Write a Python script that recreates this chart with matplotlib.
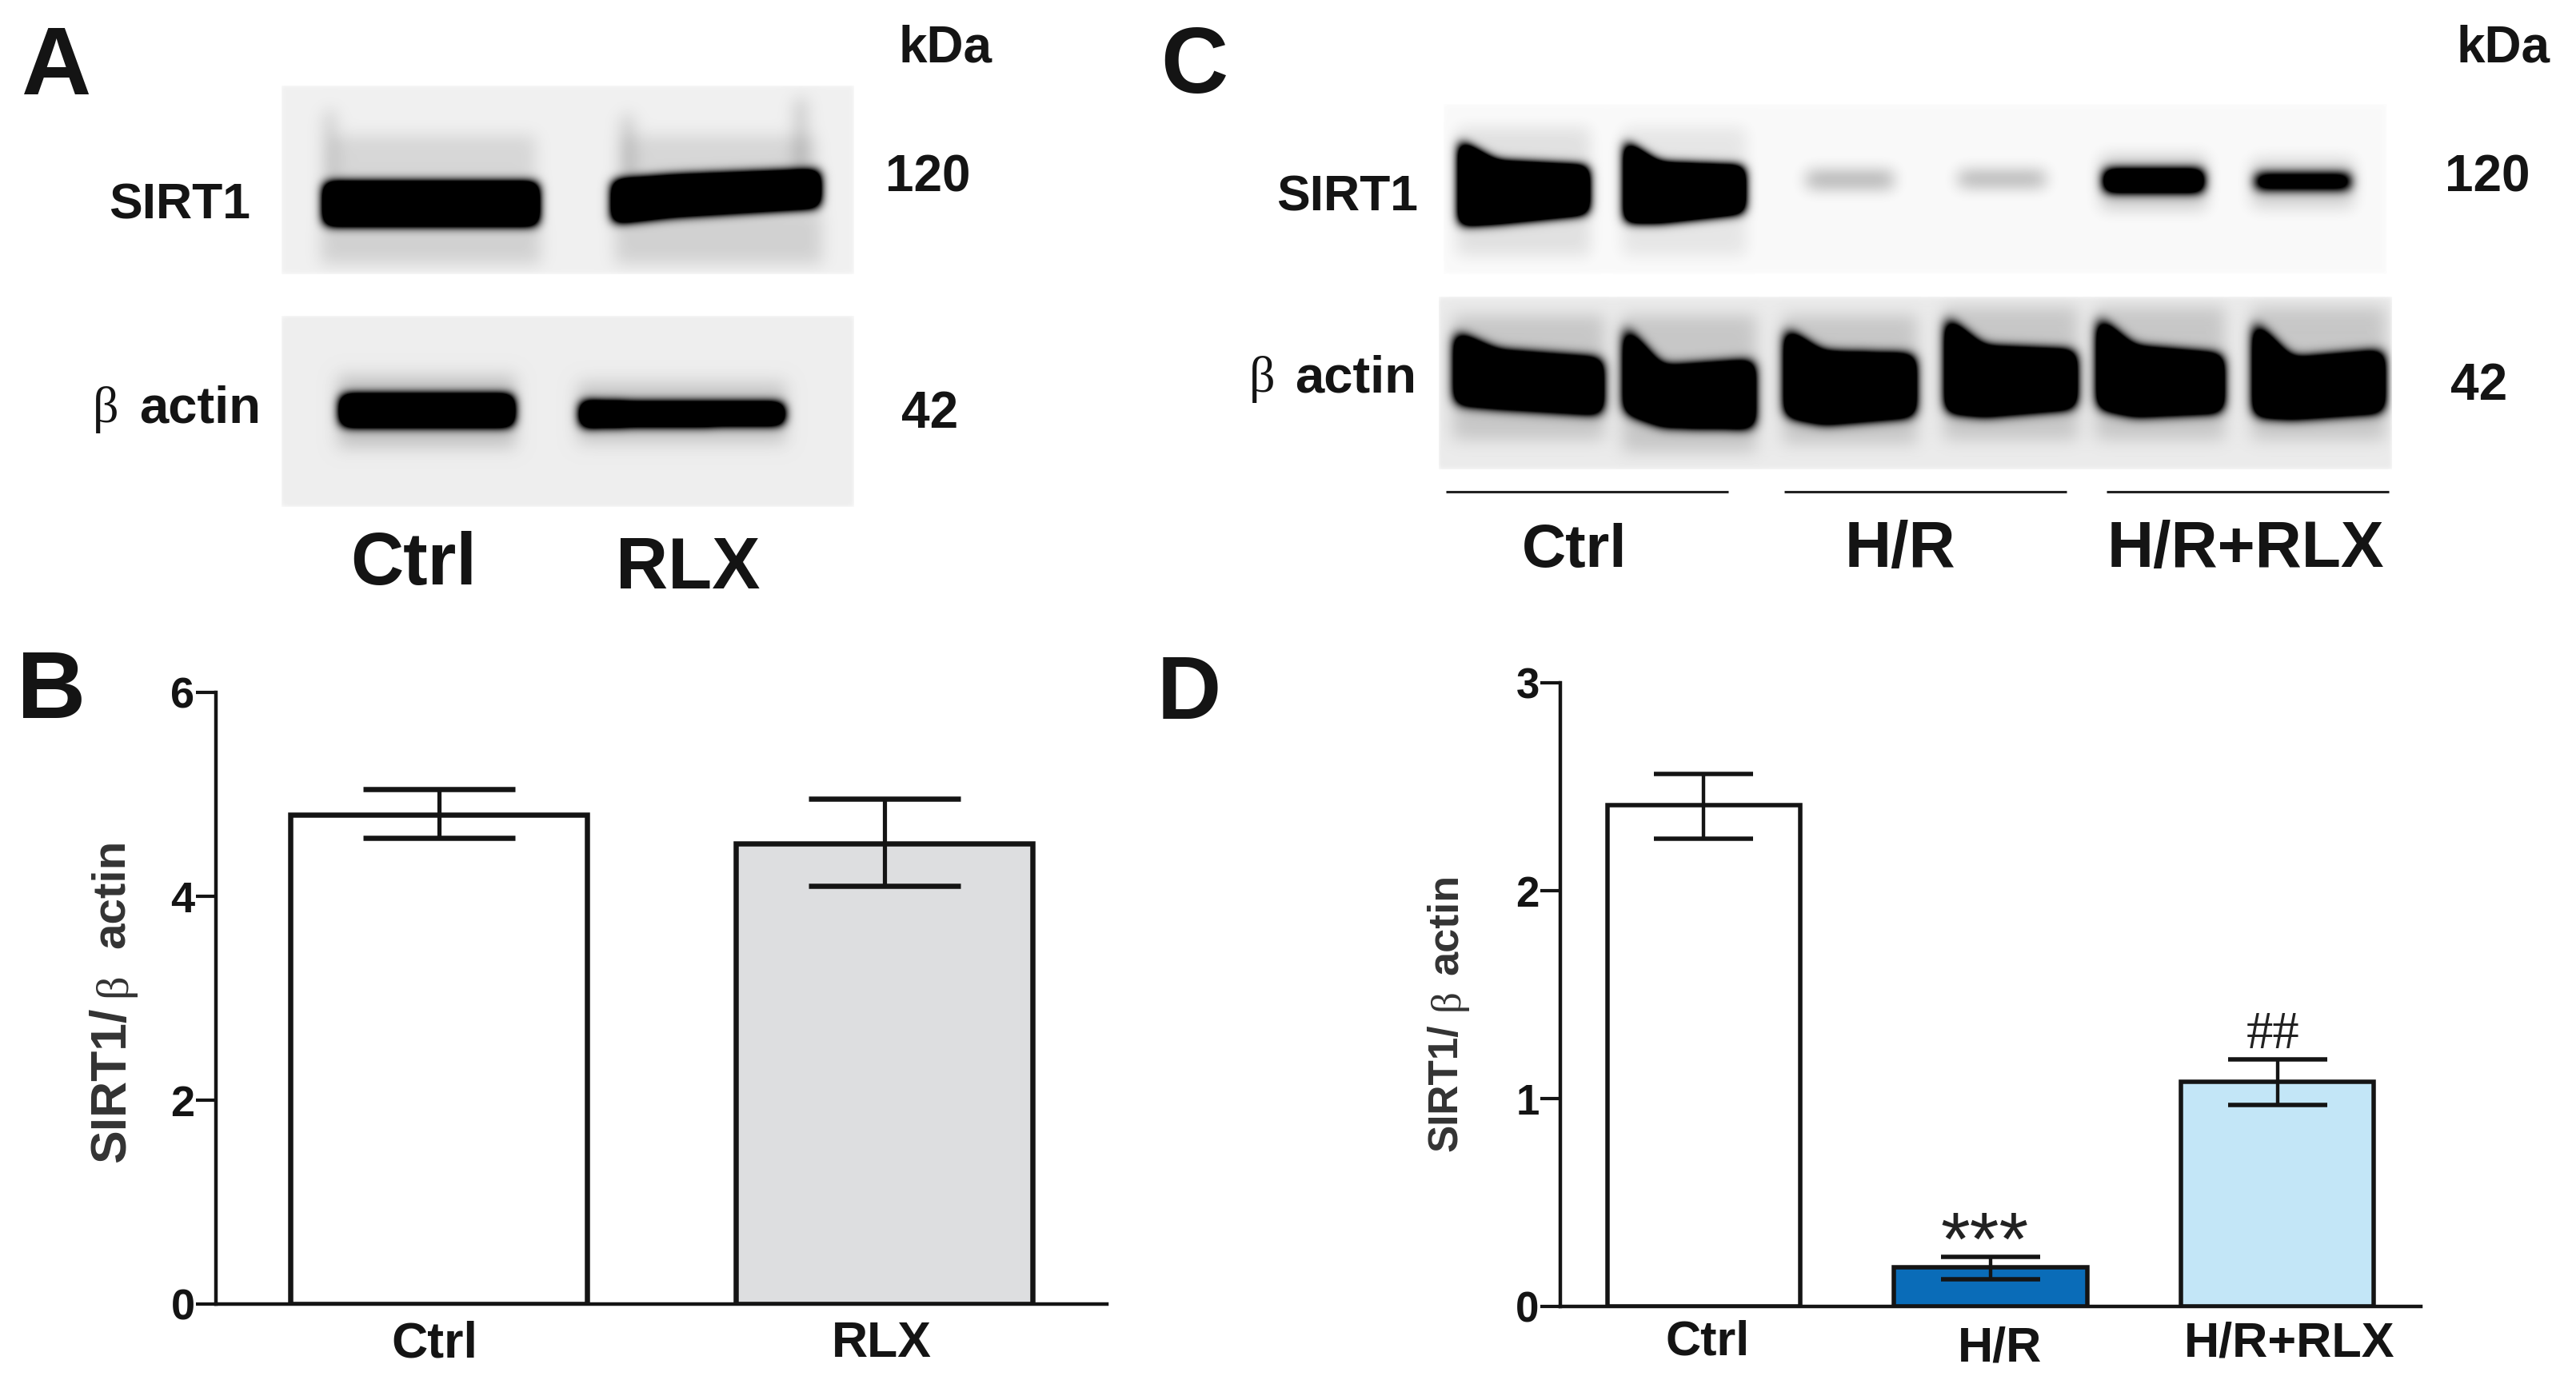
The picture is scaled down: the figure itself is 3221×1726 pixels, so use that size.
import numpy as np
import matplotlib
matplotlib.use("Agg")
import matplotlib.pyplot as plt
from matplotlib.transforms import ScaledTranslation

W, H = 3221, 1726
DPI = 100
INK = "#141414"
plt.rcParams['font.family'] = ['Liberation Sans', 'DejaVu Sans']
plt.rcParams['font.weight'] = 'bold'

# ---------- quantified bar data ----------
b_labels = ["Ctrl", "RLX"]
b_means = [4.80, 4.52]
b_err_hi = [5.05, 4.96]
b_err_lo = [4.57, 4.10]
b_colors = ["#ffffff", "#dddee0"]
b_yticks = [0, 2, 4, 6]

d_labels = ["Ctrl", "H/R", "H/R+RLX"]
d_means = [2.41, 0.19, 1.08]
d_err_hi = [2.56, 0.24, 1.19]
d_err_lo = [2.25, 0.13, 0.97]
d_colors = ["#ffffff", "#0a6cb8", "#c3e6f7"]
d_yticks = [0, 1, 2, 3]
d_marks = ["", "***", "##"]

# ---------- western-blot bands (x0, x1, top[3], bottom[3], strength, blur) ----------
blot_a_sirt1 = [
    (402, 676, (226, 226, 226), (284, 284, 284), 3.0, 9),
    (763, 1028, (224, 218, 211), (281, 272, 261), 3.0, 9),
]
blot_a_actin = [
    (423, 645, (492, 492, 492), (535, 535, 535), 3.0, 9),
    (723, 983, (500, 502, 502), (536, 534, 533), 3.0, 9),
]
blot_c_sirt1 = [
    (1822, 1989, (172, 200, 206), (284, 281, 269), 3.0, 9),
    (2029, 2184, (172, 202, 206), (280, 280, 268), 3.0, 9),
    (2253, 2374, (208, 208, 208), (242, 242, 242), 0.30, 12),
    (2443, 2564, (208, 208, 208), (240, 240, 240), 0.30, 12),
    (2627, 2759, (209, 209, 209), (243, 243, 243), 2.2, 9),
    (2816, 2943, (214, 214, 214), (240, 240, 240), 1.7, 9),
]
blot_c_actin = [
    (1817, 2006, (413, 438, 448), (507, 512, 520), 3.0, 10),
    (2029, 2196, (403, 458, 450), (517, 535, 537), 3.0, 10),
    (2230, 2397, (408, 440, 443), (522, 532, 522), 3.0, 10),
    (2431, 2598, (393, 433, 438), (517, 522, 512), 3.0, 10),
    (2621, 2782, (393, 433, 443), (512, 522, 517), 3.0, 10),
    (2816, 2983, (398, 448, 438), (522, 525, 517), 3.0, 10),
]
# faint smears: x0, x1, y0, y1, level
smear_a_sirt1 = [(412, 670, 170, 235, 0.10), (778, 1020, 170, 225, 0.10),
                 (402, 676, 280, 330, 0.12), (770, 1028, 265, 330, 0.12),
                 (406, 420, 140, 230, 0.14), (778, 792, 145, 230, 0.16),
                 (995, 1008, 125, 215, 0.18)]
smear_a_actin = [(423, 645, 470, 560, 0.16), (723, 983, 478, 555, 0.14)]
smear_c_sirt1 = [(1822, 1989, 160, 320, 0.10), (2029, 2184, 160, 320, 0.08),
                 (2627, 2759, 195, 262, 0.18), (2816, 2943, 200, 260, 0.16)]
smear_c_actin = [(1817, 2006, 395, 550, 0.14), (2029, 2196, 395, 565, 0.14),
                 (2230, 2397, 395, 555, 0.14), (2431, 2598, 385, 550, 0.14),
                 (2621, 2782, 385, 550, 0.14), (2816, 2983, 385, 550, 0.14)]


def gblur(a, sigma):
    r = int(3 * sigma)
    k = np.exp(-0.5 * (np.arange(-r, r + 1) / sigma) ** 2)
    k /= k.sum()
    pad = np.pad(a, r, mode="edge")
    pad = np.apply_along_axis(lambda v: np.convolve(v, k, mode="same"), 0, pad)
    pad = np.apply_along_axis(lambda v: np.convolve(v, k, mode="same"), 1, pad)
    return pad[r:-r, r:-r]


def sig(t, s):
    return 0.5 * (1 + np.tanh(t / s))


def blot(ax, rect, bands, smears, bg):
    x0, x1, y0, y1 = rect
    xs = np.arange(x0, x1) + 0.5
    ys = np.arange(y0, y1) + 0.5
    X, Y = np.meshgrid(xs, ys)
    dens = np.zeros_like(X)
    for a, b, tp, bt, st, soft in bands:
        fr = (xs - a) / (b - a)
        top = np.interp(fr, [0, 0.3, 1], tp)
        bot = np.interp(fr, [0, 0.3, 1], bt)
        mask = ((X >= a) & (X <= b) & (Y >= top) & (Y <= bot)).astype(float)
        dens += st * gblur(mask, soft) ** 2
    haze = np.zeros_like(X)
    for a, b, c, d, lev in smears:
        m = ((X >= a) & (X <= b) & (Y >= c) & (Y <= d)).astype(float)
        haze += lev * m
    dens += gblur(haze, 10)
    img = np.clip(bg - dens, 0, 1)
    edge = sig(X - x0, 3) * sig(x1 - X, 3) * sig(Y - y0, 3) * sig(y1 - Y, 3)
    img = 1 - (1 - img) * edge
    ax.imshow(img, cmap="gray", vmin=0, vmax=1, extent=(x0, x1, y1, y0),
              aspect="auto", interpolation="bilinear", zorder=1)


fig = plt.figure(figsize=(W / DPI, H / DPI), dpi=DPI, facecolor="white")
ov = fig.add_axes([0, 0, 1, 1], zorder=0)

blot(ov, (352, 1068, 107, 343), blot_a_sirt1, smear_a_sirt1, 0.94)
blot(ov, (352, 1068, 395, 634), blot_a_actin, smear_a_actin, 0.93)
blot(ov, (1805, 2985, 130, 343), blot_c_sirt1, smear_c_sirt1, 0.98)
blot(ov, (1799, 2991, 372, 587), blot_c_actin, smear_c_actin, 0.92)

ov.set_xlim(0, W)
ov.set_ylim(H, 0)
ov.axis("off")


def T(x, y, s, size, ha="center", va="baseline", family=None, weight="bold", rot=0, color=INK):
    kw = {}
    if family:
        kw["family"] = family
    ov.text(x, y, s, fontsize=size, ha=ha, va=va, weight=weight, rotation=rot, color=color, **kw)


# panel letters
T(71, 118, "A", 87)
T(64, 898, "B", 86)
T(1493, 116, "C", 84)
T(1487, 899, "D", 80)

# panel A text
T(1182, 77, "kDa", 46)
T(225, 274, "SIRT1", 45)
T(1160, 240, "120", 46)
T(1163, 535, "42", 46)
T(116, 528, "β", 46, ha="left", family="Liberation Serif", weight="normal")
T(250, 528, "actin", 47)
T(517, 731, "Ctrl", 66)
T(860, 736, "RLX", 65)

# panel C text
T(3130, 77, "kDa", 46)
T(1685, 264, "SIRT1", 45)
T(3110, 240, "120", 46)
T(3100, 500, "42", 46)
T(1562, 490, "β", 46, ha="left", family="Liberation Serif", weight="normal")
T(1695, 490, "actin", 47)
T(1969, 709, "Ctrl", 55)
T(2376, 709, "H/R", 58)
T(2808, 709, "H/R+RLX", 58)

# group rules under panel C
rule_spans = [(1808, 2161), (2231, 2584), (2634, 2987)]
for a, b in rule_spans:
    ov.plot([a, b], [615, 615], color="#222222", lw=2.2, solid_capstyle="butt", zorder=2)
ov.set_xlim(0, W)
ov.set_ylim(H, 0)

# y-axis titles, pieced because the beta is set in a serif face
GREY = "#333333"
T(140, 1357, "SIRT1/", 45, va="center", rot=90, color=GREY)
T(143, 1232, "β", 42, va="center", rot=90, family="Liberation Serif", weight="normal", color=GREY)
T(140, 1118, "actin", 42, va="center", rot=90, color=GREY)
T(1808, 1360, "SIRT1/", 37, va="center", rot=90, color=GREY)
T(1811, 1251, "β", 38, va="center", rot=90, family="Liberation Serif", weight="normal", color=GREY)
T(1808, 1156, "actin", 39, va="center", rot=90, color=GREY)


def bar_panel(box, labels, means, hi, lo, colors, yticks, ymax, barw, lw_px, cap_px, tick_fs,
              lab_fs, lab_off, pad_px):
    left, right, top, bottom = box
    ax = fig.add_axes([left / W, 1 - bottom / H, (right - left) / W, (bottom - top) / H], zorder=2)
    ax.patch.set_alpha(0)
    n = len(labels)
    x = np.arange(n)
    lw = lw_px * 72 / DPI
    ax.bar(x, means, width=barw, color=colors, edgecolor=INK, linewidth=lw, zorder=2)
    ax.errorbar(x, means,
                yerr=[np.array(means) - np.array(lo), np.array(hi) - np.array(means)],
                fmt="none", ecolor=INK, elinewidth=lw * 0.8, capsize=cap_px / 2 * 72 / DPI,
                capthick=lw, zorder=3)
    ax.set_xlim(-0.5, n - 0.5)
    ax.set_ylim(0, ymax)
    for s in ("top", "right"):
        ax.spines[s].set_visible(False)
    for s in ("left", "bottom"):
        ax.spines[s].set_linewidth(3.2)
        ax.spines[s].set_color(INK)
    ax.set_yticks(yticks)
    ax.tick_params(axis="y", length=18, width=3.0, color=INK, labelsize=tick_fs, pad=1, labelcolor=INK)
    ax.set_xticks(x, labels)
    ax.tick_params(axis="x", length=0, labelsize=lab_fs, pad=pad_px * 72 / DPI, labelcolor=INK)
    for lab, (dx, dy) in zip(ax.get_xticklabels(), lab_off):
        lab.set_transform(lab.get_transform() + ScaledTranslation(dx / DPI, -dy / DPI, fig.dpi_scale_trans))
    return ax


bar_panel((270, 1384, 866, 1631), b_labels, b_means, b_err_hi, b_err_lo, b_colors,
          b_yticks, 6, 0.665, 6.5, 189, 39, 45, [(-5, 0), (-3, 0)], 20)
axd = bar_panel((1951, 3027, 854, 1634), d_labels, d_means, d_err_hi, d_err_lo, d_colors,
                d_yticks, 3, 0.672, 5.5, 124, 38, 44, [(5, 0), (12, 8), (15, 2)], 16)

# significance marks above the panel D bars
mark_px = {"***": (-7, -10, 68, "Liberation Sans"), "##": (-6, 14, 48, "Liberation Serif")}
for i, m in enumerate(d_marks):
    if m:
        dx, dy, fs, fam = mark_px[m]
        axd.annotate(m, xy=(i, d_err_hi[i]), xytext=(dx, dy), textcoords="offset pixels",
                     ha="center", va="baseline", fontsize=fs,
                     family=fam, weight="normal", color="#222222", zorder=4)

fig.savefig("out.png", dpi=DPI, facecolor="white")
